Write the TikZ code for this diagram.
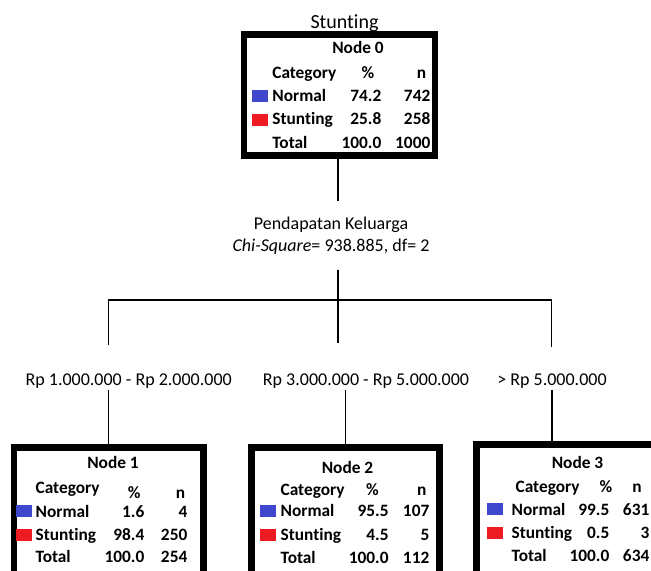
\documentclass[tikz,border=0pt]{standalone}
\usepackage{fontspec}
\setmainfont{Carlito}[Ligatures=NoCommon]
\usepackage{tikz}
\usetikzlibrary{positioning}
\definecolor{catblue}{RGB}{63,72,204}
\definecolor{catred}{RGB}{237,28,36}

\begin{document}
\begin{tikzpicture}[
                    x=0.75pt,
                    y=-0.75pt,
                    treebox/.style={
                        rectangle,
                        draw=black,
                        line width=5pt,
                        inner sep=0pt
                    },
                    cell/.style={
                        font=\fontsize{13}{15}\selectfont\bfseries,
                        inner sep=0pt
                    },
                    swatch/.style={
                        rectangle,
                        inner sep=0pt,
                        minimum width=12pt,
                        minimum height=9pt
                    },
                    caption/.style={
                        font=\fontsize{13.5}{16.8}\selectfont,
                        inner xsep=0pt,
                        inner ysep=1pt,
                        align=center
                    },
                    line width=1pt
                ]
                \useasboundingbox (0,0) rectangle (651,571);
                \clip (0,0) rectangle (651,571);

                \newcommand{\mkrow}[5]{
                    \node (#1l) [cell, anchor=base west] at (\labx,#2) {#3};
                    \node (#1p) [cell, anchor=base east] at (\pctx,#2) {#4};
                    \node (#1n) [cell, anchor=base east] at (\nx,#2) {#5};
                }
                \newcommand{\mkswatch}[2]{
                    \node (#1s) [swatch, fill=#2, left=\swgap of #1l] {};
                }

                % root
                \node (title) [caption, font=\fontsize{15}{18}\selectfont, anchor=base] at (344.5,28) {Stunting};
                \node (n0) [treebox, minimum width=143.25pt, minimum height=90.75pt] at (339.5,95) {};
                \node (n0t) [cell, anchor=base] at (358,53) {Node 0};
                \node (n0c) [cell, anchor=base west] at (271.7,78) {Category};
                \node (n0h) [cell, anchor=base] at (368,78) {\%};
                \node (n0k) [cell, anchor=base] at (421.5,78) {n};
                \def\labx{271.7}\def\pctx{382}\def\nx{431}\def\swgap{2.5pt}
                \mkrow{n0a}{101.7}{Normal}{74.2}{742}
                \mkrow{n0b}{124.3}{Stunting}{25.8}{258}
                \mkrow{n0c}{148.3}{Total}{100.0}{1000}
                \mkswatch{n0a}{catblue}
                \mkswatch{n0b}{catred}

                % split
                \node (split) [caption, inner ysep=11pt] at (331,235.5)
                    {Pendapatan Keluarga\\\textit{Chi-Square}= 938.885, df= 2};
                \coordinate (bar) at (338,300);
                \coordinate (bl) at (108.5,345);
                \coordinate (bm) at (338,343);
                \coordinate (br) at (551.5,347);

                \node (b1) [caption, anchor=base] at (128.7,385) {Rp 1.000.000 - Rp 2.000.000};
                \node (b2) [caption, anchor=base] at (366,385) {Rp 3.000.000 - Rp 5.000.000};
                \node (b3) [caption, anchor=base] at (552,385) {> Rp 5.000.000};

                % node 1
                \node (n1) [treebox, minimum width=142.1pt, minimum height=114.4pt] at (108.75,523.75) {};
                \node (n1t) [cell, anchor=base] at (113,468.3) {Node 1};
                \node (n1c) [cell, anchor=base west] at (35,493) {Category};
                \node (n1h) [cell, anchor=base] at (134.2,498) {\%};
                \node (n1k) [cell, anchor=base] at (180.5,498) {n};
                \def\labx{35}\def\pctx{145}\def\nx{188}\def\swgap{1.7pt}
                \mkrow{n1a}{517}{Normal}{1.6}{4}
                \mkrow{n1b}{540}{Stunting}{98.4}{250}
                \mkrow{n1c}{562.5}{Total}{100.0}{254}
                \mkswatch{n1a}{catblue}
                \mkswatch{n1b}{catred}

                % node 2
                \node (n2) [treebox, minimum width=140.85pt, minimum height=114.15pt] at (345.6,523.9) {};
                \node (n2t) [cell, anchor=base] at (347.5,473.3) {Node 2};
                \node (n2c) [cell, anchor=base west] at (280,495) {Category};
                \node (n2h) [cell, anchor=base] at (372.5,495) {\%};
                \node (n2k) [cell, anchor=base] at (421.7,495) {n};
                \def\labx{280}\def\pctx{389.3}\def\nx{430}\def\swgap{2.5pt}
                \mkrow{n2a}{516.7}{Normal}{95.5}{107}
                \mkrow{n2b}{540}{Stunting}{4.5}{5}
                \mkrow{n2c}{563.3}{Total}{100.0}{112}
                \mkswatch{n2a}{catblue}
                \mkswatch{n2b}{catred}

                % node 3
                \node (n3) [treebox, minimum width=167.6pt, minimum height=116.5pt] at (588.25,522.35) {};
                \node (n3t) [cell, anchor=base] at (577.5,468.5) {Node 3};
                \node (n3c) [cell, anchor=base west] at (515,492) {Category};
                \node (n3h) [cell, anchor=base] at (606,492) {\%};
                \node (n3k) [cell, anchor=base] at (637,492) {n};
                \def\labx{511}\def\pctx{610}\def\nx{650}\def\swgap{5.5pt}
                \mkrow{n3a}{515}{Normal}{99.5}{631}
                \mkrow{n3b}{538}{Stunting}{0.5}{3}
                \mkrow{n3c}{561}{Total}{100.0}{634}
                \mkswatch{n3a}{catblue}
                \mkswatch{n3b}{catred}

                % connectors
                \draw (n0.south -| bar) -- (bar |- split.north);
                \draw (bar |- split.south) -- (bm);
                \draw (bl) |- (bar) -| (br);
                \draw (b1.south -| n1.north) -- (n1.north);
                \draw (b2.south -| n2.north) -- (n2.north);
                \draw (b3.south) -- (b3.south |- n3.north);
\end{tikzpicture}
\end{document}
